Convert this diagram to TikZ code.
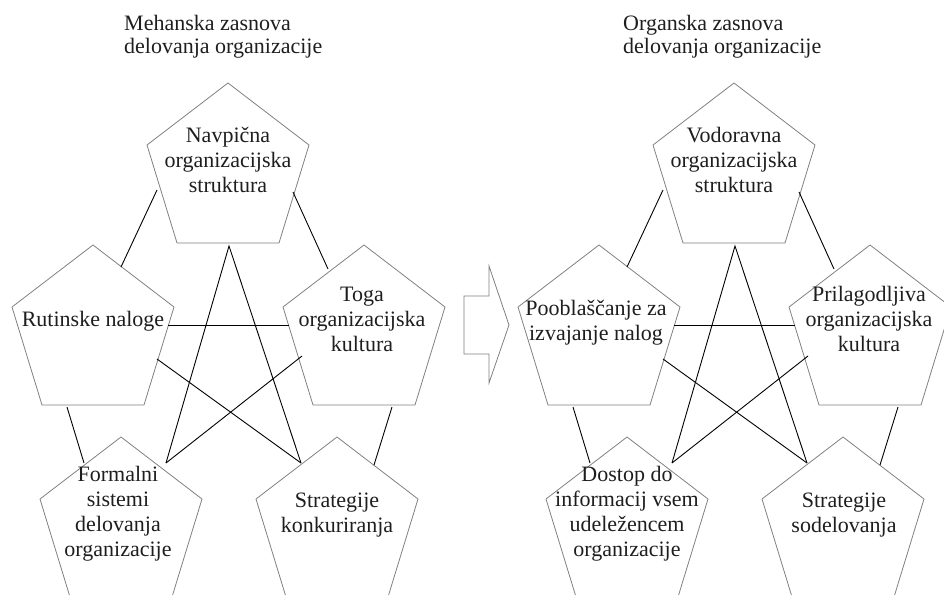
\documentclass[tikz,border=0pt]{standalone}
\usepackage{fontspec}
\setmainfont{Liberation Serif}
\usetikzlibrary{calc}

\definecolor{outline}{RGB}{128,128,128}
\definecolor{ink}{RGB}{30,30,30}

% multi-line nodes sit on the baseline of their last line
\tikzset{
  pentagon/.style={draw=outline, line width=0.8pt, line join=miter},
  link/.style={draw=black, line width=0.9pt},
  ptext/.style={font=\fontsize{22}{25}\selectfont, text=ink, align=center,
                anchor=base, inner sep=0pt},
  title/.style={font=\fontsize{22}{24}\selectfont, text=ink, align=left,
                anchor=base west, inner sep=0pt},
}

% pentagon hanging from its apex coordinate
\newcommand\pentshape[3]{%
  \coordinate (#1) at (#2,#3);
  \draw[pentagon] (#1) -- ++(81,62) -- ++(-30,98) -- ++(-102,0) -- ++(-30,-98) -- cycle;
}

% the five pentagons and the nine links between them
\newcommand\pentframe{%
  \pentshape{T}{228}{83}
  \pentshape{L}{93}{245}
  \pentshape{R}{364}{245}
  \pentshape{BL}{121}{437}
  \pentshape{BR}{337}{437}
  \draw[link] ($(T)+(-71,107)$) -- ($(L)+(28,22)$);
  \draw[link] ($(T)+(65,109)$) -- ($(R)+(-36,24)$);
  \draw[link] ($(BL)+(45,26)$) -- ($(T)+(1,163)$) -- ($(BR)+(-36,26)$);
  \draw[link] ($(L)+(75,80)$) -- ($(R)+(-75,80)$);
  \draw[link] ($(L)+(64,114)$) -- ($(BR)+(-36,26)$);
  \draw[link] ($(R)+(-62,111)$) -- ($(BL)+(45,26)$);
  \draw[link] ($(L)+(-26,162)$) -- ($(BL)+(-37,26)$);
  \draw[link] ($(R)+(28,162)$) -- ($(BR)+(37,28)$);
}

\begin{document}
\begin{tikzpicture}[x=1pt,y=-1pt]
\useasboundingbox (0,0) rectangle (944,594);
\clip (0,0) rectangle (944,594);

% left half
\begin{scope}[name prefix=m-]
  \pentframe
  \node[title] (title) at (124,54) {Mehanska zasnova\\delovanja organizacije};
  \node[ptext] (tT)  at ($(T)+(0,109)$)  {Navpična\\organizacijska\\struktura};
  \node[ptext] (tL)  at ($(L)+(0,81)$)   {Rutinske naloge};
  \node[ptext] (tR)  at ($(R)+(-2,106)$) {Toga\\organizacijska\\kultura};
  \node[ptext] (tBL) at ($(BL)+(-3,119)$) {Formalni\\sistemi\\delovanja\\organizacije};
  \node[ptext] (tBR) at ($(BR)+(0,95)$)  {Strategije\\konkuriranja};
\end{scope}

% block arrow between the halves
\draw[pentagon] (464,296) -- (489,296) -- (489,266) -- (509,325)
  -- (489,383) -- (489,354) -- (464,354) -- cycle;

% right half
\begin{scope}[xshift=506pt, name prefix=o-]
  \pentframe
  \node[ptext] (tT)  at ($(T)+(0,109)$)  {Vodoravna\\organizacijska\\struktura};
  \node[ptext] (tL)  at ($(L)+(-3,95)$)  {Pooblaščanje za\\izvajanje nalog};
  \node[ptext] (tR)  at ($(R)+(-1,106)$) {Prilagodljiva\\organizacijska\\kultura};
  \node[ptext] (tBL) at ($(BL)+(0,119)$) {Dostop do\\informacij vsem\\udeležencem\\organizacije};
  \node[ptext] (tBR) at ($(BR)+(1,95)$)  {Strategije\\sodelovanja};
\end{scope}
\node[title] (o-title) at (623,54) {Organska zasnova\\delovanja organizacije};
\end{tikzpicture}
\end{document}
